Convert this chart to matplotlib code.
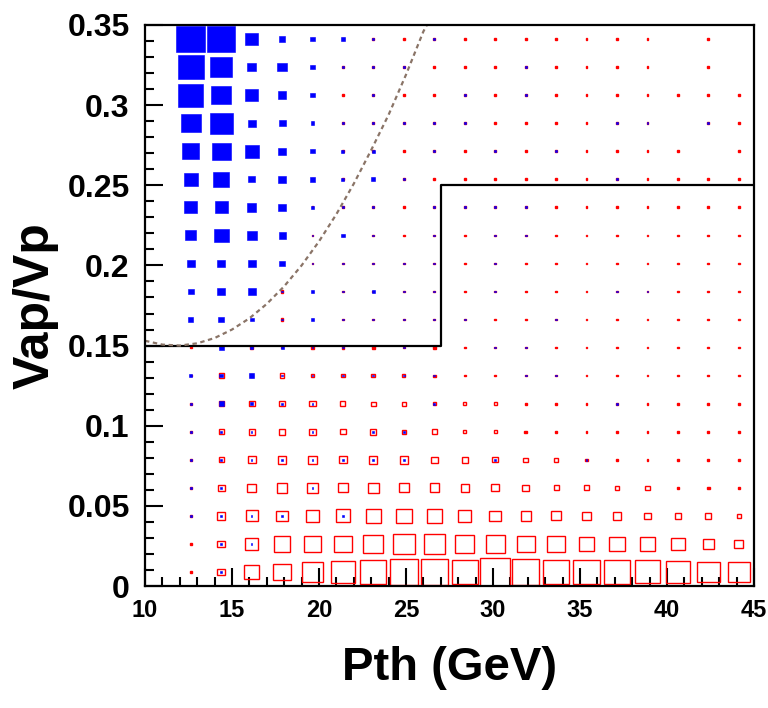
import numpy as np
import matplotlib.pyplot as plt
from matplotlib.patches import Rectangle
from matplotlib.ticker import MultipleLocator

# binning of the two 2D histograms (20 x 20)
x_edges = np.linspace(10, 45, 21)
y_edges = np.linspace(0, 0.35, 21)

# box size relative to the bin, rows from top (Vap/Vp ~ 0.34) to bottom (~0.01)
signal = [
    [0, .95, .92, .40, .18, .16, .13, .06, 0, .07, 0, 0, 0, 0, 0, 0, 0, 0, 0, 0],
    [0, .85, .72, .30, .30, .16, .07, .07, .06, 0, 0, 0, .06, 0, 0, 0, 0, 0, 0, 0],
    [0, .82, .66, .43, .26, .16, 0, .06, 0, 0, .06, 0, .06, 0, 0, 0, 0, 0, 0, 0],
    [0, .66, .75, .26, .23, .13, .06, .06, .06, .06, .06, 0, 0, 0, 0, .06, .06, 0, .06, 0],
    [0, .56, .62, .46, .26, .16, .10, .10, 0, .06, 0, .06, 0, .06, 0, 0, 0, 0, 0, 0],
    [0, .46, .52, .23, .26, .16, .10, .13, .06, 0, 0, 0, 0, 0, 0, .06, 0, 0, 0, 0],
    [0, .43, .43, .30, .26, .10, .06, .06, 0, .06, .06, .06, .06, 0, 0, 0, 0, 0, 0, 0],
    [0, .36, .49, .33, .23, .06, .13, .06, 0, .06, 0, .06, .06, 0, 0, 0, 0, 0, 0, 0],
    [0, .26, .26, .26, .20, .06, .06, .06, .06, .06, 0, .06, 0, 0, 0, 0, 0, 0, 0, 0],
    [0, .20, .26, .26, .06, .10, .06, .10, .06, .06, 0, .06, 0, 0, 0, .06, .06, 0, 0, 0],
    [0, .16, .20, .13, .06, .10, .06, .06, .06, .06, .06, 0, 0, .06, 0, 0, 0, 0, 0, 0],
    [0, 0, .16, .10, .10, .06, .06, 0, .06, 0, 0, .06, .06, 0, 0, 0, 0, 0, 0, 0],
    [0, .10, .13, .16, .06, .06, .06, .06, .06, .06, 0, 0, .06, .06, 0, 0, 0, 0, 0, 0],
    [0, .06, .16, .10, .06, .06, 0, 0, 0, .06, 0, 0, 0, 0, 0, .06, 0, 0, 0, 0],
    [0, .06, .06, .06, 0, .06, 0, .06, .06, 0, 0, 0, 0, 0, 0, 0, 0, 0, 0, 0],
    [0, .06, .06, .06, .06, .06, .06, .06, .06, 0, 0, .06, 0, 0, .06, 0, 0, 0, 0, 0],
    [0, .06, .06, 0, 0, .06, 0, 0, 0, 0, 0, 0, 0, 0, 0, 0, 0, 0, 0, 0],
    [0, .06, .06, .06, .06, 0, .06, 0, 0, 0, 0, 0, 0, 0, 0, 0, 0, 0, 0, 0],
    [0, 0, .06, .06, 0, 0, 0, 0, 0, 0, 0, 0, 0, 0, 0, 0, 0, 0, 0, 0],
    [0, 0, .06, 0, 0, 0, 0, 0, 0, 0, 0, 0, 0, 0, 0, 0, 0, 0, 0, 0],
]

background = [
    [0, .06, .06, .06, .06, .06, .06, .06, .06, .06, .06, .06, .06, .06, .06, .06, .06, 0, .06, 0],
    [0, .06, .06, .06, .06, .06, .06, .06, .06, .06, .06, .06, .06, .06, .06, .06, .06, 0, .06, 0],
    [0, .06, .06, .06, .06, .06, .06, .06, .06, .06, .06, .06, .06, .06, .06, .06, .06, .06, .06, .06],
    [0, .06, .06, .06, .06, .06, .06, .06, .06, .06, .06, .06, .06, .06, .06, .06, .06, 0, .06, .06],
    [0, .06, .06, .06, .06, .06, .06, .06, .06, .06, .06, .06, .06, .06, .06, .06, .06, .06, 0, .06],
    [0, .06, .06, .06, .06, .06, .06, .06, .06, .06, .06, .06, .06, .06, .06, .06, .06, .06, .06, .06],
    [0, .06, .06, .06, .06, .06, .06, .06, .06, .06, .06, .06, .06, .06, .06, .06, .06, .06, .06, .06],
    [0, .06, .06, .06, .06, .06, .06, .06, .06, .06, .06, .06, .06, .06, .06, .06, .06, .06, .06, .06],
    [0, .06, .06, .06, .06, .06, .06, .06, .06, .06, .06, .06, .06, .06, .06, .06, .06, .06, .06, .06],
    [0, .06, .06, .06, .08, .06, .06, .06, .06, .06, .06, .06, .06, .06, .06, .06, .06, .06, .06, .06],
    [0, .06, .06, .06, .08, .06, .06, .06, .06, .06, .06, .06, .06, .06, .06, .06, .06, .06, .06, .06],
    [0, .06, .06, .10, .06, .08, .08, .08, .06, .08, .06, .06, .06, .06, .06, .06, .06, .06, .06, .06],
    [0, .06, .16, .10, .16, .13, .13, .13, .10, .08, .06, .06, .06, .06, .06, .06, .06, .06, .06, .06],
    [0, .06, .16, .20, .20, .20, .16, .14, .14, .10, .10, .10, .06, .06, .06, .06, .06, .06, .06, .06],
    [0, .06, .17, .20, .20, .22, .17, .20, .15, .16, .11, .10, .08, .08, .06, .06, .06, .06, .06, .06],
    [0, .06, .17, .26, .27, .27, .26, .27, .27, .22, .20, .19, .15, .13, .08, .06, .06, .06, .06, .06],
    [0, .06, .23, .30, .34, .37, .32, .36, .32, .31, .27, .25, .23, .17, .17, .15, .14, .08, .08, .06],
    [0, .06, .26, .39, .37, .42, .47, .50, .52, .48, .44, .38, .33, .32, .28, .26, .23, .19, .19, .14],
    [0, .06, .24, .40, .54, .57, .57, .66, .72, .70, .62, .62, .60, .58, .47, .50, .47, .44, .34, .30],
    [0, .06, .24, .49, .60, .68, .78, .85, .90, .90, .86, .97, .90, .84, .86, .88, .82, .78, .74, .71],
]

# cut line and dashed curve
cut_x = [10, 27, 27, 45]
cut_y = [0.15, 0.15, 0.25, 0.25]

curve_x = [10, 11, 12, 13, 14, 15, 16, 17, 18, 19, 20, 21, 22, 23, 24, 25, 26, 26.2]
curve_y = [0.153, 0.1506, 0.150, 0.1514, 0.1547, 0.160, 0.167, 0.176, 0.187, 0.200,
           0.215, 0.232, 0.251, 0.272, 0.294, 0.319, 0.346, 0.350]

xticks = [10, 15, 20, 25, 30, 35, 40, 45]
yticks = [0, 0.05, 0.1, 0.15, 0.2, 0.25, 0.3, 0.35]
ytick_labels = ["0", "0.05", "0.1", "0.15", "0.2", "0.25", "0.3", "0.35"]


def draw_boxes(ax, grid, filled, color):
    dx = x_edges[1] - x_edges[0]
    dy = y_edges[1] - y_edges[0]
    xc = 0.5 * (x_edges[:-1] + x_edges[1:])
    yc = 0.5 * (y_edges[:-1] + y_edges[1:])
    nrow = len(grid)
    for i, row in enumerate(grid):
        k = nrow - 1 - i
        for c, f in enumerate(row):
            if f <= 0:
                continue
            w, h = f * dx, f * dy
            # very small boxes show up as solid dots
            solid = filled or f < 0.09
            r = Rectangle((xc[c] - w / 2, yc[k] - h / 2), w, h,
                          facecolor=color if solid else "none",
                          edgecolor=color, linewidth=1.0 if not filled else 0.4,
                          zorder=3 if filled else 2)
            ax.add_patch(r)


def main():
    plt.rcParams["font.family"] = ["Liberation Sans", "DejaVu Sans"]
    plt.rcParams["font.weight"] = "bold"

    fig = plt.figure(figsize=(7.68, 7.08), dpi=100)
    ax = fig.add_axes([0.1888, 0.1723, 0.7930, 0.7924])

    draw_boxes(ax, background, False, "#ff0000")
    draw_boxes(ax, signal, True, "#0000ff")

    ax.plot(cut_x, cut_y, color="black", linewidth=1.6, zorder=4)
    ax.plot(curve_x, curve_y, color="#8a7467", linewidth=1.6,
            linestyle=(0, (2.0, 1.6)), zorder=4, clip_on=True)

    ax.set_xlim(10, 45)
    ax.set_ylim(0, 0.35)

    ax.set_xticks(xticks)
    ax.set_xticklabels([str(v) for v in xticks])
    ax.set_yticks(yticks)
    ax.set_yticklabels(ytick_labels)
    ax.xaxis.set_minor_locator(MultipleLocator(1))
    ax.yaxis.set_minor_locator(MultipleLocator(0.01))

    ax.tick_params(axis="both", which="both", direction="in", top=False, right=False, width=1.5)
    ax.tick_params(axis="both", which="major", length=13)
    ax.tick_params(axis="both", which="minor", length=6.5)
    ax.tick_params(axis="y", which="major", labelsize=23, pad=11)
    ax.tick_params(axis="x", which="major", labelsize=17, pad=9)

    for s in ax.spines.values():
        s.set_linewidth(1.6)
        s.set_zorder(5)

    ax.set_xlabel("Pth (GeV)", fontsize=34, fontweight="bold", va="center")
    ax.xaxis.set_label_coords(0.5, -0.146)
    ax.set_ylabel("Vap/Vp", fontsize=36, fontweight="bold", va="center", ha="center")
    ax.yaxis.set_label_coords(-0.179, 0.5)

    fig.savefig("out.png", dpi=100)


if __name__ == "__main__":
    main()
